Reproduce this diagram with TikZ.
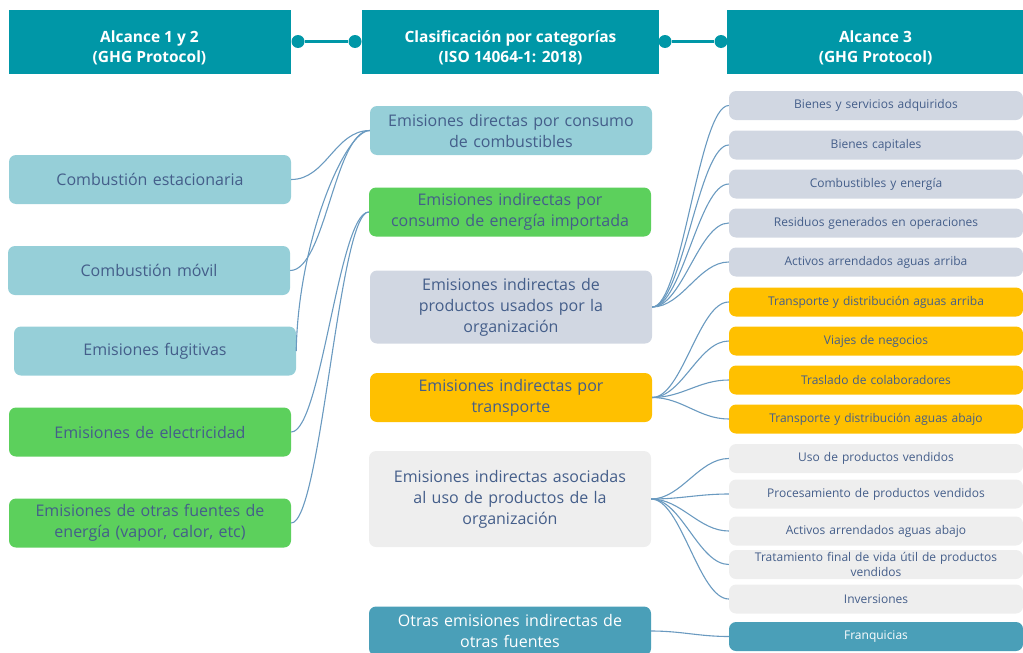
\documentclass[tikz,border=0pt]{standalone}
\usepackage{fontspec}
\setmainfont{Open Sans}
\usepackage{tikz}
\usetikzlibrary{calc}
\definecolor{headc}{RGB}{0,151,167}
\definecolor{txtc}{RGB}{68,94,138}
\definecolor{linkc}{RGB}{106,154,192}
\definecolor{lblue}{RGB}{150,207,216}
\definecolor{lgreen}{RGB}{92,208,92}
\definecolor{gblue}{RGB}{209,215,226}
\definecolor{yell}{RGB}{255,192,0}
\definecolor{lgrey}{RGB}{238,238,238}
\definecolor{dteal}{RGB}{74,159,184}
\newcommand{\headstrut}{\rule{0pt}{24pt}}
\tikzstyle{box}      = [rounded corners=7pt, align=center, inner sep=0pt, text=txtc]
\tikzstyle{bigbox}   = [box, minimum width=282pt, minimum height=49pt, text width=276pt, font=\fontsize{16}{21}\selectfont]
\tikzstyle{smallbox} = [box, minimum width=294pt, minimum height=29pt, text width=290pt, font=\fontsize{12}{15}\selectfont]
\tikzstyle{head}     = [fill=headc, text=white, align=center, inner sep=0pt, minimum height=64pt, font=\bfseries\fontsize{15.5}{20}\selectfont]
\tikzstyle{dot}      = [circle, fill=headc, inner sep=0pt, minimum size=13pt]
\tikzstyle{link}     = [draw=linkc, line width=1.1pt]

\begin{document}
\begin{tikzpicture}[x=1pt, y=-1pt]
  \useasboundingbox (0,0) rectangle (1023,653);

  %the three headers on top
  \node[head, minimum width=282pt] (h1) at (149.5,41.5) {\headstrut Alcance 1 y 2\\(GHG Protocol)};
  \node[head, minimum width=297pt] (h2) at (510.5,41.5) {\headstrut Clasificación por categorías\\(ISO 14064-1: 2018)};
  \node[head, minimum width=297pt] (h3) at (875.5,41.5) {\headstrut Alcance 3\\(GHG Protocol)};
  \node[dot] (d1) at (298,41.5) {};
  \node[dot] (d2) at (355,41.5) {};
  \node[dot] (d3) at (665,41.5) {};
  \node[dot] (d4) at (721,41.5) {};
  \draw[headc, line width=3.5pt] (d1) -- (d2);
  \draw[headc, line width=3.5pt] (d3) -- (d4);

  %put some nodes on the left
  \node[bigbox, fill=lblue] (est) at (150,179.5) {Combustión estacionaria};
  \node[bigbox, fill=lblue] (mov) at (149,270.5) {Combustión móvil};
  \node[bigbox, fill=lblue] (fug) at (155,351) {Emisiones fugitivas};
  \node[bigbox, fill=lgreen] (ele) at (150,432) {Emisiones de electricidad};
  \node[bigbox, fill=lgreen] (otr) at (150,523) {Emisiones de otras fuentes de\\energía (vapor, calor, etc)};

  %the categories in the middle
  \node[bigbox, fill=lblue] (dir) at (511,130.5) {Emisiones directas por consumo\\de combustibles};
  \node[bigbox, fill=lgreen] (ene) at (510,212) {Emisiones indirectas por\\consumo de energía importada};
  \node[bigbox, fill=gblue, minimum height=73pt] (pro) at (511,307) {Emisiones indirectas de\\productos usados por la\\organización};
  \node[bigbox, fill=yell] (tra) at (511,397.5) {Emisiones indirectas por\\transporte};
  \node[bigbox, fill=lgrey, minimum height=96pt] (aso) at (510,499) {Emisiones indirectas asociadas\\al uso de productos de la\\organización};
  \node[bigbox, fill=dteal, text=white] (ofu) at (510,631) {Otras emisiones indirectas de\\otras fuentes};

  %put some nodes on the right
  \foreach \y/\t [count=\i] in {105.5/Bienes y servicios adquiridos, 145/Bienes capitales,
      184/Combustibles y energía, 223/Residuos generados en operaciones,
      262/Activos arrendados aguas arriba}{
    \node[smallbox, fill=gblue] (g\i) at (876,\y) {\t};
    \draw[link] (pro.east) .. controls +(30,0) and +(-30,0) .. (g\i.west);
  }
  \foreach \y/\t [count=\i] in {302/Transporte y distribución aguas arriba, 341/Viajes de negocios,
      380/Traslado de colaboradores, 419/Transporte y distribución aguas abajo}{
    \node[smallbox, fill=yell] (y\i) at (876,\y) {\t};
    \draw[link] (tra.east) .. controls +(30,0) and +(-30,0) .. (y\i.west);
  }
  \foreach \y/\t [count=\i] in {458.5/Uso de productos vendidos, 494/Procesamiento de productos vendidos,
      531/Activos arrendados aguas abajo, 564.5/Tratamiento final de vida útil de productos\\vendidos,
      599/Inversiones}{
    \node[smallbox, fill=lgrey] (u\i) at (876,\y) {\t};
    \draw[link] (aso.east) .. controls +(30,0) and +(-30,0) .. (u\i.west);
  }
  \node[smallbox, fill=dteal, text=white] (fra) at (876,636.5) {Franquicias};
  \draw[link] (ofu.east) .. controls +(30,0) and +(-30,0) .. (fra.west);

  %links from the left to the middle
  \draw[link] (est.east) .. controls +(35,0) and +(-35,0) .. (dir.west);
  \draw[link] (mov.east) .. controls +(35,0) and +(-35,0) .. (dir.west);
  \draw[link] (fug.east) .. controls +(2,-110) and +(-25,0) .. (dir.west);
  \draw[link] (ele.east) .. controls +(30,0) and +(-30,0) .. (ene.west);
  \draw[link] (otr.east) .. controls +(30,0) and +(-30,0) .. (ene.west);
\end{tikzpicture}
\end{document}
